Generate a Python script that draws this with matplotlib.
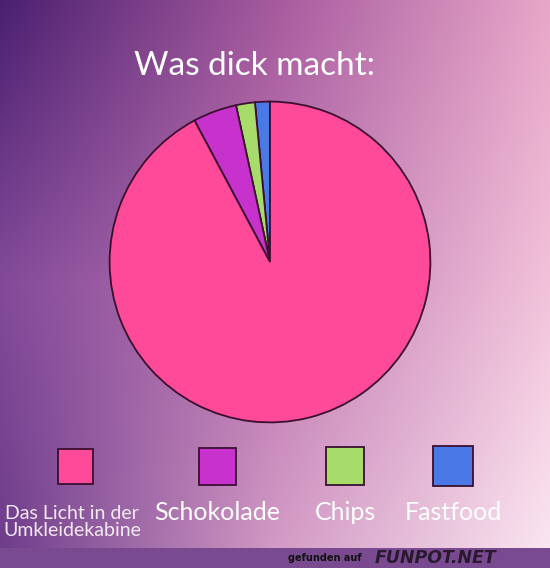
import numpy as np
import matplotlib
matplotlib.use("Agg")
import matplotlib.pyplot as plt
from matplotlib.colors import to_rgb

W, H = 550, 568

title = "Was dick macht:"
# wedges, counter-clockwise from 12 o'clock
labels = ["Fastfood", "Chips", "Schokolade", "Das Licht in der\nUmkleidekabine"]
values = [1.5, 1.9, 4.4, 92.2]
colors = ["#4a78e4", "#a8dc6a", "#c832cc", "#ff4a9a"]
legend_order = [3, 2, 1, 0]

fig = plt.figure(figsize=(W / 100, H / 100), dpi=100)

# background gradient from a 3x3 grid of colours
grid = [["#4a2070", "#a65a9e", "#e8a6c8"],
        ["#834a9a", "#c07ab2", "#f2c2da"],
        ["#6c3c8a", "#d49cc6", "#fbe8f2"]]
g = np.array([[to_rgb(c) for c in row] for row in grid])
xs = np.linspace(0, 2, W)
ys = np.linspace(0, 2, H)
img = np.empty((H, W, 3))
for ch in range(3):
    rows = np.array([np.interp(xs, [0, 1, 2], g[j, :, ch]) for j in range(3)])
    for col in range(W):
        img[:, col, ch] = np.interp(ys, [0, 1, 2], rows[:, col])
img[548:, :, :] = to_rgb("#7a4a90")
bg = fig.add_axes([0, 0, 1, 1])
bg.imshow(img, aspect="auto", extent=[0, W, H, 0])
bg.set_xlim(0, W); bg.set_ylim(H, 0); bg.axis("off")

bg.text(255, 66, title, color="white", fontsize=24, family="Lato",
        ha="center", va="center")

# pie
cx, cy, r = 270, 262, 162
ax = fig.add_axes([(cx - r) / W, (H - cy - r) / H, 2 * r / W, 2 * r / H])
ax.pie(values, colors=colors, startangle=90, counterclock=True, radius=1,
       wedgeprops=dict(edgecolor="#3a0f30", linewidth=1.3))
ax.set_xlim(-1.01, 1.01); ax.set_ylim(-1.01, 1.01)
ax.set_aspect("auto"); ax.axis("off")

# legend
sq_x = [75, 217, 345, 453]
sizes = [35, 37, 38, 40]
lab_x = [72, 217, 345, 453]
lab_size = [14, 18, 18, 18]
for k, i in enumerate(legend_order):
    s = sizes[k]
    bg.add_patch(plt.Rectangle((sq_x[k] - s / 2, 466 - s / 2), s, s,
                               facecolor=colors[i], edgecolor="#3a0f30", lw=1.3))
    if "\n" in labels[i]:
        bg.text(lab_x[k], 522, labels[i], color="#f4eaf2", fontsize=lab_size[k],
                family="Lato", ha="center", va="center", linespacing=1.05)
    else:
        bg.text(lab_x[k], 513, labels[i], color="white", fontsize=lab_size[k],
                family="Lato", ha="center", va="center")

# watermark
bg.text(362, 558, "gefunden auf", color="#111111", fontsize=7, fontweight="bold",
        ha="right", va="center")
bg.text(375, 558, "FUNPOT.NET", color="#2a1a30", fontsize=12.5, fontweight="heavy",
        style="italic", ha="left", va="center")

fig.savefig("out.png", dpi=100)
